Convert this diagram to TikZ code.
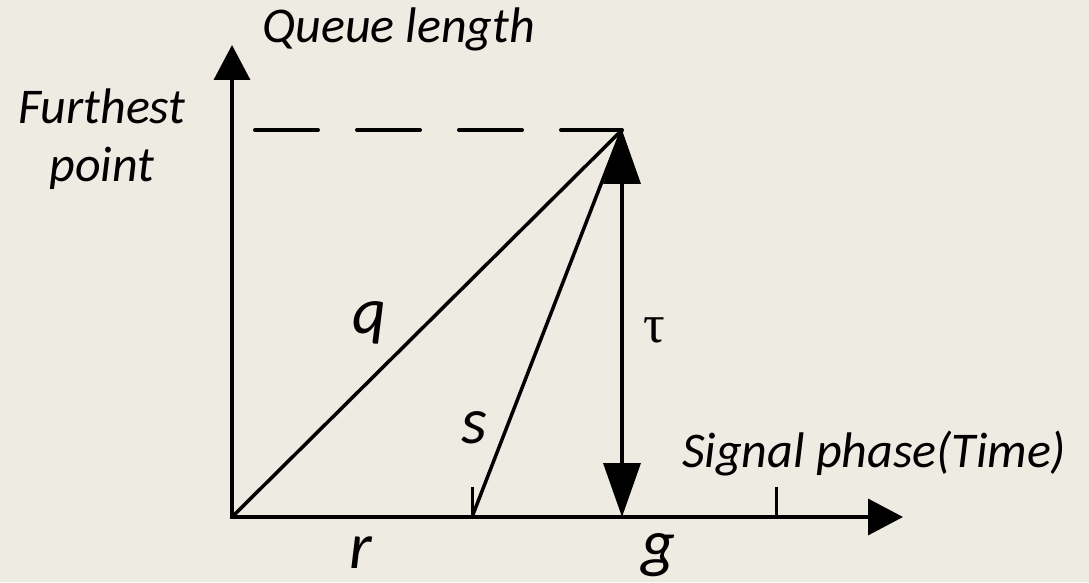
\documentclass[tikz,border=0pt]{standalone}
\usepackage{fontspec}
\setmainfont{Carlito}
\newfontfamily\greekfont{Liberation Serif}
\usetikzlibrary{arrows.meta}
\definecolor{paper}{RGB}{238,235,227}
\tikzset{
  axisline/.style={line width=3.5pt,{Triangle[length=35pt,width=36pt]}-{Triangle[length=35pt,width=36pt]}},
  graphline/.style={line width=3.5pt},
  tickline/.style={line width=3pt},
  axislabel/.style={font=\fontsize{50}{58}\selectfont\itshape,inner sep=0pt},
  varlabel/.style={font=\fontsize{66}{70}\selectfont\itshape,inner sep=0pt}
}
\begin{document}
\begin{tikzpicture}[x=1pt,y=1pt]
\fill[paper] (0,0) rectangle (1089,582);
\useasboundingbox (0,0) rectangle (1089,582);

\coordinate (O) at (232,65);
\coordinate (ytop) at (232,537);
\coordinate (xend) at (903,65);
\coordinate (peak) at (622,452);
\coordinate (foot) at (622,65);
\coordinate (sat) at (472,65);
\coordinate (sattick) at (472,95);
\coordinate (cyc) at (776,65);
\coordinate (cyctick) at (776,95);
\coordinate (dashstart) at (255,452);

\draw[axisline] (ytop) -- (O) -- (xend);
\draw[graphline] (O) -- (peak);
\draw[graphline] (sat) -- (peak);
\draw[tickline] (sat) -- (sattick);
\draw[tickline] (cyc) -- (cyctick);
\draw[line width=4pt,line cap=round,dash pattern=on 63pt off 39pt] (dashstart) -- (peak);
\draw[line width=3.5pt,{Triangle[length=54pt,width=37pt]}-{Triangle[length=54pt,width=37pt]}] (peak) -- (foot);

\node[axislabel,anchor=base west] (qlen) at (262,539) {Queue length};
\node[axislabel,align=center] (far) at (102,443) {Furthest\\point};
\node[axislabel,anchor=base west] (phase) at (682,115) {Signal phase(Time)};
\node[varlabel,anchor=base] (qlab) at (369,249) {q};
\node[varlabel,anchor=base] (slab) at (474,139) {s};
\node[varlabel,anchor=base,text depth=0pt] (rlab) at (361,14) {r};
\node[varlabel,anchor=base,text depth=0pt] (glab) at (658,17) {g};
\node[inner sep=0pt,anchor=base,font=\fontsize{54}{56}\selectfont\greekfont] (taulab) at (654,240) {τ};
\end{tikzpicture}
\end{document}
